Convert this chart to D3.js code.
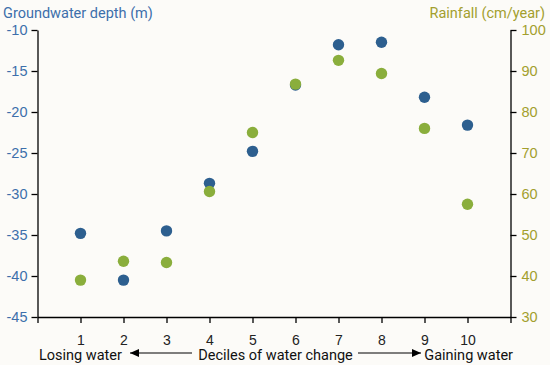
<!DOCTYPE html>
<html>
<head>
<meta charset="utf-8">
<script src="https://cdn.jsdelivr.net/npm/d3@7"></script>
<style>
  body { margin: 0; background: #fcfbf8; }
  svg { display: block; font-family: Roboto, "Noto Sans", sans-serif; }
</style>
</head>
<body>
<svg id="chart" width="550" height="365"></svg>
<script>
// deciles of water change
const deciles = [1, 2, 3, 4, 5, 6, 7, 8, 9, 10];
// groundwater depth (m), left axis
const depth = [-34.8, -40.5, -34.5, -28.7, -24.8, -16.7, -11.8, -11.5, -18.2, -21.6];
// rainfall (cm/year), right axis
const rainfall = [39.0, 43.6, 43.3, 60.6, 75.0, 86.8, 92.6, 89.4, 76.0, 57.5];

const leftTicks = [-10, -15, -20, -25, -30, -35, -40, -45];
const rightTicks = [100, 90, 80, 70, 60, 50, 40, 30];

const blue = '#2d5f8f';
const green = '#8aae3c';
const blueText = '#3d6fab';
const goldText = '#a39f2e';

const svg = d3.select('#chart');
const plotLeft = 37.5, plotRight = 510.5, plotTop = 30, plotBottom = 317;

const x = d3.scaleLinear().domain([0, 11]).range([plotLeft, plotRight]);
const yL = d3.scaleLinear().domain([-45, -10]).range([plotBottom, plotTop]);
const yR = d3.scaleLinear().domain([30, 100]).range([plotBottom, plotTop]);

// left axis (plain hyphen for negatives, like the original)
const gl = svg.append('g')
  .attr('transform', `translate(${plotLeft},0)`)
  .call(d3.axisLeft(yL).tickValues(leftTicks).tickFormat(d => String(d))
    .tickSize(6).tickPadding(4).tickSizeOuter(0));
gl.selectAll('text').style('fill', blueText).style('font-size', '14.5px');

// right axis
const gr = svg.append('g')
  .attr('transform', `translate(${plotRight},0)`)
  .call(d3.axisRight(yR).tickValues(rightTicks).tickSize(6).tickPadding(5).tickSizeOuter(0));
gr.selectAll('text').style('fill', goldText).style('font-size', '14.5px');

// bottom axis
const gb = svg.append('g')
  .attr('transform', `translate(0,${plotBottom})`)
  .call(d3.axisBottom(x).tickValues(d3.range(0, 12))
    .tickFormat(d => (d >= 1 && d <= 10) ? d : '')
    .tickSize(6).tickPadding(12).tickSizeOuter(0));
gb.selectAll('text').style('fill', '#222').style('font-size', '14px');

svg.selectAll('.domain, .tick line').attr('stroke', '#000').attr('stroke-width', 1.3);

// axis titles
svg.append('text').attr('x', 3).attr('y', 18)
  .style('font-size', '14.5px').style('fill', blueText)
  .text('Groundwater depth (m)');
svg.append('text').attr('x', 545).attr('y', 18).attr('text-anchor', 'end')
  .style('font-size', '14.5px').style('fill', goldText)
  .text('Rainfall (cm/year)');

// points
const pts = deciles.map((d, i) => ({ d, depth: depth[i], rain: rainfall[i] }));

svg.append('g').selectAll('circle')
  .data(pts).enter().append('circle')
  .attr('cx', p => x(p.d))
  .attr('cy', p => yL(p.depth))
  .attr('r', 5.7)
  .style('fill', blue);

svg.append('g').selectAll('circle')
  .data(pts).enter().append('circle')
  .attr('cx', p => x(p.d))
  .attr('cy', p => yR(p.rain))
  .attr('r', 5.7)
  .style('fill', green);

// bottom caption with arrows
const defs = svg.append('defs');
defs.append('marker').attr('id', 'arr')
  .attr('viewBox', '0 0 10 10').attr('refX', 10).attr('refY', 5)
  .attr('markerWidth', 9).attr('markerHeight', 8)
  .attr('markerUnits', 'userSpaceOnUse')
  .attr('orient', 'auto')
  .attr('preserveAspectRatio', 'none')
  .append('path').attr('d', 'M0,0L10,5L0,10Z').attr('fill', '#000');

const capY = 360;
svg.append('text').attr('x', 39).attr('y', capY)
  .style('font-size', '14.5px').style('fill', '#111').text('Losing water');
svg.append('text').attr('x', 275.5).attr('y', capY).attr('text-anchor', 'middle')
  .style('font-size', '14.5px').style('fill', '#111').text('Deciles of water change');
svg.append('text').attr('x', 513).attr('y', capY).attr('text-anchor', 'end')
  .style('font-size', '14.5px').style('fill', '#111').text('Gaining water');

svg.append('line').attr('x1', 192).attr('x2', 130).attr('y1', capY - 7).attr('y2', capY - 7)
  .attr('stroke', '#000').attr('stroke-width', 1.2).attr('marker-end', 'url(#arr)');
svg.append('line').attr('x1', 358).attr('x2', 421).attr('y1', capY - 7).attr('y2', capY - 7)
  .attr('stroke', '#000').attr('stroke-width', 1.2).attr('marker-end', 'url(#arr)');
</script>
</body>
</html>
